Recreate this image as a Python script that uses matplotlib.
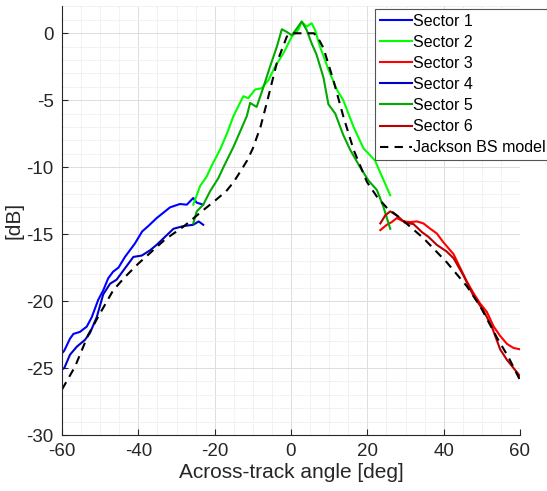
import numpy as np
import matplotlib
matplotlib.use('Agg')
import matplotlib.pyplot as plt
from matplotlib.ticker import MultipleLocator

plt.rcParams['font.family'] = ['Liberation Sans', 'DejaVu Sans']
plt.rcParams['axes.unicode_minus'] = False

# sector 1 (upper blue) and sector 4 (lower blue), port side
s1_ang = [-60, -59.4, -57.9, -57.0, -55.3, -53.5, -52.2, -50.5, -49.2, -47.9, -46.6, -45.2,
          -43.5, -40.9, -39.0, -37.4, -35.2, -33.0, -31.7, -29.1, -27.3, -25.6, -24.7, -23.0]
s1_db = [-23.9, -23.7, -22.8, -22.45, -22.3, -21.9, -21.2, -19.9, -19.2, -18.3, -17.8, -17.5,
         -16.7, -15.7, -14.8, -14.4, -13.8, -13.3, -13.0, -12.75, -12.8, -12.3, -12.65, -12.8]

s4_ang = [-60, -59.4, -57.9, -56.1, -54.0, -52.7, -50.9, -49.2, -47.4, -45.7, -43.5,
          -41.3, -39.1, -36.9, -35.2, -33.0, -30.8, -28.2, -25.6, -24.2, -23.0]
s4_db = [-25.1, -25.0, -24.0, -23.4, -22.9, -22.4, -21.2, -19.5, -18.7, -18.4, -17.55,
         -16.7, -16.6, -16.2, -15.8, -15.2, -14.6, -14.4, -14.3, -14.05, -14.3]

# sector 2 (bright green) and sector 5 (dark green), nadir
s2_ang = [-25.6, -23.8, -22.1, -20.8, -18.6, -16.8, -15.1, -12.5, -11.2, -9.4, -7.7, -5.9, -4.2,
          -2.0, 0.2, 1.9, 2.8, 4.1, 5.4, 6.3, 7.6, 9.8, 12.0, 13.7, 16.4, 19.0, 22.0, 26.0]
s2_db = [-12.8, -11.4, -10.7, -9.9, -8.7, -7.5, -6.2, -4.7, -4.85, -4.2, -4.1, -3.5, -2.5,
         -1.5, -0.25, 0.25, 0.87, 0.5, 0.75, 0.25, -1.0, -2.7, -4.2, -5.0, -7.0, -8.6, -9.5, -12.1]

s5_ang = [-25.6, -24.7, -23.0, -21.2, -19.0, -17.7, -15.1, -11.6, -10.7, -9.0, -7.2, -5.5, -3.7,
          -2.4, -1.1, 0.2, 1.5, 2.8, 4.1, 5.4, 6.7, 8.5, 9.8, 11.6, 13.7, 15.5, 18.1, 20.3,
          22.5, 24.2, 26.0]
s5_db = [-14.2, -13.3, -12.8, -11.8, -10.8, -10.0, -8.5, -6.2, -5.2, -5.5, -4.0, -2.5, -1.0,
         0.3, 0.1, -0.15, 0.35, 0.87, 0.25, -0.75, -1.6, -3.3, -5.3, -6.0, -7.6, -8.7, -10.0, -11.0,
         -11.7, -12.95, -14.6]

# sector 3 (bright red) and sector 6 (dark red), starboard
s3_ang = [23.4, 25.1, 26.4, 27.7, 29.5, 31.2, 33.0, 34.7, 36.5, 38.2, 39.9, 41.7, 42.6, 44.3,
          46.1, 47.8, 49.6, 51.3, 53.1, 54.8, 56.6, 58.3, 60]
s3_db = [-14.7, -14.3, -14.1, -13.8, -14.05, -14.1, -14.05, -14.2, -14.6, -14.95, -15.6, -16.2,
         -16.5, -17.5, -18.55, -19.4, -20.2, -20.8, -21.9, -22.6, -23.2, -23.5, -23.6]

s6_ang = [23.4, 24.7, 26.0, 27.7, 29.9, 32.1, 34.3, 36.0, 38.2, 40.8, 42.6, 45.2, 47.8, 50.4,
          52.6, 54.8, 56.6, 58.3, 60]
s6_db = [-14.2, -13.6, -13.3, -13.6, -14.15, -14.25, -14.85, -15.2, -15.8, -16.3, -16.8, -18.1,
         -19.6, -20.7, -21.9, -23.6, -24.4, -25.0, -25.6]

# Jackson backscatter model
jk_ang = [-60, -56.6, -53.1, -49.6, -46.6, -43.5, -40.0, -36.5, -33.0, -28.0, -23.8, -19.5,
          -17.0, -15.0, -13.0, -11.5, -10.0, -8.0, -6.35, -3.7, -1.1, 0.0, 6.0, 7.0, 8.5, 11.1,
          13.7, 16.4, 19.9, 22.5, 25.0, 28.6, 34.7, 40.8, 46.1, 49.6, 53.9, 57.0, 60]
jk_db = [-26.6, -24.9, -22.5, -20.7, -19.2, -18.2, -17.2, -16.3, -15.4, -14.4, -13.4, -12.4,
         -11.8, -11.1, -10.2, -9.5, -8.6, -7.0, -5.2, -2.2, -0.25, 0.0, 0.0, -0.3, -1.1, -3.5,
         -6.2, -8.7, -11.1, -12.2, -13.0, -13.8, -15.3, -17.1, -18.9, -20.4, -22.7, -24.2, -25.9]

fig = plt.figure(figsize=(5.47, 4.91), dpi=100)
ax = fig.add_axes([62/547, 1-435/491, (520-62)/547, (435-6.5)/491])

lw = 1.5
ax.plot(s1_ang, s1_db, color='#0000ff', lw=lw, label='Sector 1')
ax.plot(s2_ang, s2_db, color='#00ff00', lw=lw, label='Sector 2')
ax.plot(s3_ang, s3_db, color='#ff0000', lw=lw, label='Sector 3')
ax.plot(s4_ang, s4_db, color='#0000cc', lw=lw, label='Sector 4')
ax.plot(s5_ang, s5_db, color='#00aa00', lw=lw, label='Sector 5')
ax.plot(s6_ang, s6_db, color='#bb0000', lw=lw, label='Sector 6')
ax.plot(jk_ang, jk_db, color='black', lw=lw, ls=(0, (4, 3)), label='Jackson BS model')

ax.set_xlim(-60, 60)
ax.set_ylim(-30, 2)
ax.xaxis.set_major_locator(MultipleLocator(20))
ax.xaxis.set_minor_locator(MultipleLocator(5))
ax.yaxis.set_major_locator(MultipleLocator(5))
ax.yaxis.set_minor_locator(MultipleLocator(1))
ax.grid(which='major', color='#dddddd', lw=0.7)
ax.grid(which='minor', color='#e9e9e9', lw=0.6, ls=(0, (2, 1)))
ax.set_axisbelow(True)

for s in ['top', 'right']:
    ax.spines[s].set_visible(False)
for s in ['left', 'bottom']:
    ax.spines[s].set_color('#262626')
    ax.spines[s].set_linewidth(0.8)
ax.tick_params(which='both', direction='in', colors='#262626', labelsize=13.5)
ax.tick_params(which='major', length=4)
ax.tick_params(axis='y', which='major', pad=6)
ax.tick_params(axis='x', which='major', pad=6)
ax.tick_params(which='minor', length=0)

ax.set_xlabel('Across-track angle [deg]', fontsize=15, color='#262626', labelpad=2)
ax.set_ylabel('[dB]', fontsize=15, color='#262626', labelpad=2)

leg = ax.legend(loc='upper left', bbox_to_anchor=(375/547, 1-9/491), bbox_transform=fig.transFigure,
                borderaxespad=0, fontsize=11.5, handlelength=2.0, handletextpad=0.1,
                labelspacing=0.38, borderpad=0.3, fancybox=False, framealpha=1)
leg.get_frame().set_edgecolor('#555555')
leg.get_frame().set_linewidth(0.8)

fig.savefig('out.png', dpi=100)
